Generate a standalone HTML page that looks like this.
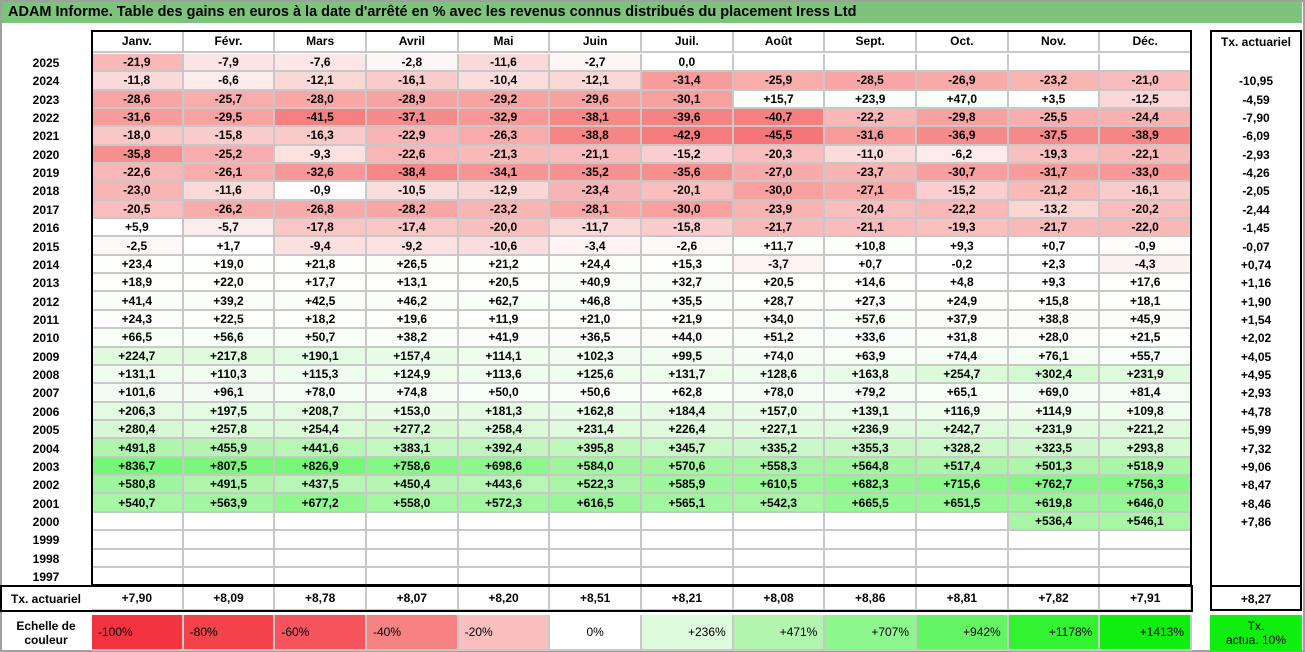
<!DOCTYPE html>
<html><head><meta charset="utf-8">
<style>
body{margin:0;background:#fff;width:1305px;height:652px;overflow:hidden;font-family:"Liberation Sans",Arial,sans-serif;}
#root{position:relative;width:1305px;height:652px;}
.c{position:absolute;box-sizing:border-box;font-size:12px;font-weight:bold;color:#000;display:flex;align-items:center;justify-content:center;white-space:nowrap;}
.g{border-right:2px solid #c8c8c8;border-bottom:2px solid #c8c8c8;}
.box{position:absolute;box-sizing:border-box;border:2px solid #000;pointer-events:none;}
</style></head>
<body>
<div id="root">
<div style="position:absolute;left:2px;top:2px;width:1300px;height:21px;background:#7cc47c;font-size:14.5px;font-weight:bold;line-height:21px;padding-left:6px;box-sizing:border-box;white-space:nowrap;">ADAM Informe. Table des gains en euros à la date d'arrêté en % avec les revenus connus distribués du placement Iress Ltd</div>
<div style="position:absolute;left:0;top:0;width:1305px;height:652px;box-sizing:border-box;border:2px solid #a0a0a0;pointer-events:none"></div>
</div>
<script>
const months=["Janv.","Févr.","Mars","Avril","Mai","Juin","Juil.","Août","Sept.","Oct.","Nov.","Déc."];
const years=[2025,2024,2023,2022,2021,2020,2019,2018,2017,2016,2015,2014,2013,2012,2011,2010,2009,2008,2007,2006,2005,2004,2003,2002,2001,2000,1999,1998,1997];
const N=null;
const gains=[
[-21.9,-7.9,-7.6,-2.8,-11.6,-2.7,0.0,N,N,N,N,N],
[-11.8,-6.6,-12.1,-16.1,-10.4,-12.1,-31.4,-25.9,-28.5,-26.9,-23.2,-21.0],
[-28.6,-25.7,-28.0,-28.9,-29.2,-29.6,-30.1,15.7,23.9,47.0,3.5,-12.5],
[-31.6,-29.5,-41.5,-37.1,-32.9,-38.1,-39.6,-40.7,-22.2,-29.8,-25.5,-24.4],
[-18.0,-15.8,-16.3,-22.9,-26.3,-38.8,-42.9,-45.5,-31.6,-36.9,-37.5,-38.9],
[-35.8,-25.2,-9.3,-22.6,-21.3,-21.1,-15.2,-20.3,-11.0,-6.2,-19.3,-22.1],
[-22.6,-26.1,-32.6,-38.4,-34.1,-35.2,-35.6,-27.0,-23.7,-30.7,-31.7,-33.0],
[-23.0,-11.6,-0.9,-10.5,-12.9,-23.4,-20.1,-30.0,-27.1,-15.2,-21.2,-16.1],
[-20.5,-26.2,-26.8,-28.2,-23.2,-28.1,-30.0,-23.9,-20.4,-22.2,-13.2,-20.2],
[5.9,-5.7,-17.8,-17.4,-20.0,-11.7,-15.8,-21.7,-21.1,-19.3,-21.7,-22.0],
[-2.5,1.7,-9.4,-9.2,-10.6,-3.4,-2.6,11.7,10.8,9.3,0.7,-0.9],
[23.4,19.0,21.8,26.5,21.2,24.4,15.3,-3.7,0.7,-0.2,2.3,-4.3],
[18.9,22.0,17.7,13.1,20.5,40.9,32.7,20.5,14.6,4.8,9.3,17.6],
[41.4,39.2,42.5,46.2,62.7,46.8,35.5,28.7,27.3,24.9,15.8,18.1],
[24.3,22.5,18.2,19.6,11.9,21.0,21.9,34.0,57.6,37.9,38.8,45.9],
[66.5,56.6,50.7,38.2,41.9,36.5,44.0,51.2,33.6,31.8,28.0,21.5],
[224.7,217.8,190.1,157.4,114.1,102.3,99.5,74.0,63.9,74.4,76.1,55.7],
[131.1,110.3,115.3,124.9,113.6,125.6,131.7,128.6,163.8,254.7,302.4,231.9],
[101.6,96.1,78.0,74.8,50.0,50.6,62.8,78.0,79.2,65.1,69.0,81.4],
[206.3,197.5,208.7,153.0,181.3,162.8,184.4,157.0,139.1,116.9,114.9,109.8],
[280.4,257.8,254.4,277.2,258.4,231.4,226.4,227.1,236.9,242.7,231.9,221.2],
[491.8,455.9,441.6,383.1,392.4,395.8,345.7,335.2,355.3,328.2,323.5,293.8],
[836.7,807.5,826.9,758.6,698.6,584.0,570.6,558.3,564.8,517.4,501.3,518.9],
[580.8,491.5,437.5,450.4,443.6,522.3,585.9,610.5,682.3,715.6,762.7,756.3],
[540.7,563.9,677.2,558.0,572.3,616.5,565.1,542.3,665.5,651.5,619.8,646.0],
[N,N,N,N,N,N,N,N,N,N,536.4,546.1],
[N,N,N,N,N,N,N,N,N,N,N,N],
[N,N,N,N,N,N,N,N,N,N,N,N],
[N,N,N,N,N,N,N,N,N,N,N,N]];
const yearRate=["",-10.95,-4.59,-7.90,-6.09,-2.93,-4.26,-2.05,-2.44,-1.45,-0.07,0.74,1.16,1.90,1.54,2.02,4.05,4.95,2.93,4.78,5.99,7.32,9.06,8.47,8.46,7.86,"","",""];
const monthRate=[7.90,8.09,8.78,8.07,8.20,8.51,8.21,8.08,8.86,8.81,7.82,7.91];
const totalRate=8.27;
const scaleLabels=["-100%","-80%","-60%","-40%","-20%","0%","+236%","+471%","+707%","+942%","+1178%","+1413%"];
const scaleVals=[-100,-80,-60,-40,-20,0,236,471,707,942,1178,1413];

const negStops=[[0,[255,255,255]],[20,[249,190,190]],[40,[246,130,130]],[60,[245,84,92]],[80,[244,66,74]],[100,[244,51,64]]];
const posStops=[[0,[255,255,255]],[236,[222,250,220]],[471,[178,245,175]],[707,[140,247,140]],[942,[100,245,100]],[1178,[50,242,50]],[1413,[15,238,15]]];
function color(v){
  const st=v<0?negStops:posStops;const a=Math.abs(v);
  for(let i=1;i<st.length;i++){if(a<=st[i][0]){const t=(a-st[i-1][0])/(st[i][0]-st[i-1][0]);const c=st[i-1][1].map((x,k)=>Math.round(x+(st[i][1][k]-x)*t));return `rgb(${c})`;}}
  return `rgb(${st[st.length-1][1]})`;
}
function fmt(v,d){if(v===0)return (0).toFixed(d).replace('.',',');return (v>0?"+":"")+v.toFixed(d).replace('.',',');}

const root=document.getElementById('root');
const X0=92,CW=91.67,HT=31,HH=22,RT=53.8,RH=18.36,RX=1210,RW=92;
const colX=i=>X0+i*CW;
const rowY=r=>RT+r*RH;
function cell(x,y,w,h,txt,name,cls,bg){
  const d=document.createElement('div');d.className='c '+(cls||'');
  d.style.left=x+'px';d.style.top=y+'px';d.style.width=w+'px';d.style.height=h+'px';
  if(bg)d.style.background=bg;d.textContent=txt;
  
  
  root.appendChild(d);return d;
}
months.forEach((m,i)=>{cell(colX(i),HT,CW,HH,m,'month-header','g');});
cell(RX,HT,RW,HH,'Tx. actuariel','rate-column-header','');
years.forEach((y,r)=>{
  cell(0,rowY(r),X0,RH,String(y),'year-label','');
  gains[r].forEach((v,i)=>{
    cell(colX(i),rowY(r),CW,RH,v===null?'':fmt(v,1),'gain-cell','g',v===null?'#fff':color(v));
  });
  cell(RX,rowY(r),RW,RH,yearRate[r]===''?'':fmt(yearRate[r],2),'year-rate','');
});
const TY=rowY(years.length);
cell(0,TY,X0,611-TY,'Tx. actuariel','rate-row-label','');
monthRate.forEach((v,i)=>cell(colX(i),TY,CW,611-TY,fmt(v,2),'month-rate','g'));
cell(RX,TY,RW,611-TY,fmt(totalRate,2),'total-rate','');
function box(l,t,w,h,n){const d=document.createElement('div');d.className='box';d.style.left=l+'px';d.style.top=t+'px';d.style.width=w+'px';d.style.height=h+'px';

root.appendChild(d);}
box(X0-1,HT-1,1101,TY-HT+1,'table-border');
box(0,TY-1,X0+1101,611-TY+2,'rate-row-border');
box(RX,HT-1,RW,611-HT+1,'rate-column-border');
box(RX,TY-1,RW,611-TY+1,'total-border');
const s=cell(0,615,X0,36,'','scale-label','');s.innerHTML='Echelle de<br>couleur';s.style.textAlign='center';
scaleVals.forEach((v,i)=>{
  const d=cell(colX(i),615,CW,36,scaleLabels[i],'scale-swatch','g',color(v));
  d.style.fontWeight='normal';
  d.style.justifyContent=v<0?'flex-start':(v>0?'flex-end':'center');d.style.padding='0 6px';
});
const t=cell(RX,615,RW,36,'','scale-rate-swatch','',"#10ee10");t.innerHTML='Tx.<br>actua. 10%';t.style.textAlign='center';t.style.fontWeight='normal';
</script>
</body></html>
